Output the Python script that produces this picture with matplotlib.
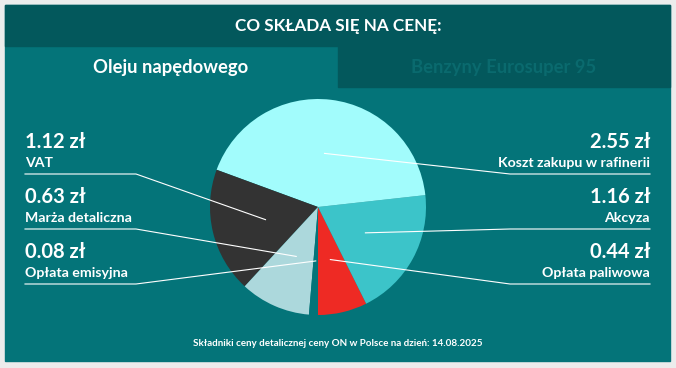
import matplotlib as mpl
import matplotlib.pyplot as plt
import numpy as np

mpl.rcParams["font.family"] = ["Lato", "DejaVu Sans"]

# Data
labels = ["Opłata paliwowa", "Akcyza", "Koszt zakupu w rafinerii", "VAT", "Marża detaliczna", "Opłata emisyjna"]
values = [0.44, 1.16, 2.55, 1.12, 0.63, 0.08]
colors = ["#ee2a24", "#3cc4c9", "#a2fcfc", "#333333", "#acd8dc", "#047479"]
left_items = ["VAT", "Marża detaliczna", "Opłata emisyjna"]
right_items = ["Koszt zakupu w rafinerii", "Akcyza", "Opłata paliwowa"]

title = "CO SKŁADA SIĘ NA CENĘ:"
tab_active = "Oleju napędowego"
tab_inactive = "Benzyny Eurosuper 95"
footer = "Składniki ceny detalicznej ceny ON w Polsce na dzień: 14.08.2025"

W, H = 676, 368
panel = "#047479"
dark = "#03585c"

fig = plt.figure(figsize=(W / 100, H / 100), dpi=100)
fig.patch.set_facecolor("#ececec")

# background axes in pixel coords
bg = fig.add_axes([0, 0, 1, 1])
bg.set_xlim(0, W)
bg.set_ylim(H, 0)
bg.axis("off")
bg.add_patch(plt.Rectangle((5, 5), 665, 356, color=panel, zorder=0))
bg.add_patch(plt.Rectangle((5, 5), 665, 41, color=dark, zorder=1))
bg.add_patch(plt.Rectangle((338, 46), 332, 41, color=dark, zorder=1))

bg.text(338, 26, title, color="white", fontsize=12.3, fontweight="bold",
        ha="center", va="center", zorder=3)
bg.text(171, 67, tab_active, color="white", fontsize=13.2, fontweight="bold",
        ha="center", va="center", zorder=3)
bg.text(504, 67, tab_inactive, color="#0a6a6e", fontsize=13.2, fontweight="bold",
        ha="center", va="center", zorder=3)
bg.text(338, 344, footer, color="white", fontsize=7.1, fontweight="bold",
        ha="center", va="center", zorder=3)

# pie
cx, cy, r = 318, 207, 108
pie_ax = fig.add_axes([(cx - r) / W, (H - cy - r) / H, 2 * r / W, 2 * r / H])
wedges, _ = pie_ax.pie(values, colors=colors, startangle=-90, counterclock=True,
                       radius=1, wedgeprops=dict(linewidth=0))
pie_ax.set_xlim(-1, 1)
pie_ax.set_ylim(-1, 1)
pie_ax.set_aspect("auto")
pie_ax.axis("off")

# anchor point of each slice, converted to pixel coords of bg
to_bg = pie_ax.transData + bg.transData.inverted()
anchors = {}
for w, lab in zip(wedges, labels):
    mid = np.deg2rad((w.theta1 + w.theta2) / 2)
    anchors[lab] = to_bg.transform((0.5 * np.cos(mid), 0.5 * np.sin(mid)))

val_of = dict(zip(labels, values))
rows = [142, 197, 252]

lines_ax = fig.add_axes([0, 0, 1, 1], zorder=5)
lines_ax.set_xlim(0, W)
lines_ax.set_ylim(H, 0)
lines_ax.axis("off")

for lab, y in zip(left_items, rows):
    lines_ax.text(25, y, f"{val_of[lab]:.2f} zł", color="white", fontsize=14.5,
                  fontweight="bold", ha="left", va="center")
    lines_ax.text(25, y + 21, lab, color="white", fontsize=10.2,
                  fontweight="bold", ha="left", va="center")
    ax_, ay_ = anchors[lab]
    lines_ax.plot([25, 136, ax_], [y + 32, y + 32, ay_], color="white", lw=0.8)

for lab, y in zip(right_items, rows):
    lines_ax.text(650, y, f"{val_of[lab]:.2f} zł", color="white", fontsize=14.5,
                  fontweight="bold", ha="right", va="center")
    lines_ax.text(650, y + 21, lab, color="white", fontsize=10.2,
                  fontweight="bold", ha="right", va="center")
    ax_, ay_ = anchors[lab]
    lines_ax.plot([650, 510, ax_], [y + 32, y + 32, ay_], color="white", lw=0.8)

fig.savefig("out.png", dpi=100)
